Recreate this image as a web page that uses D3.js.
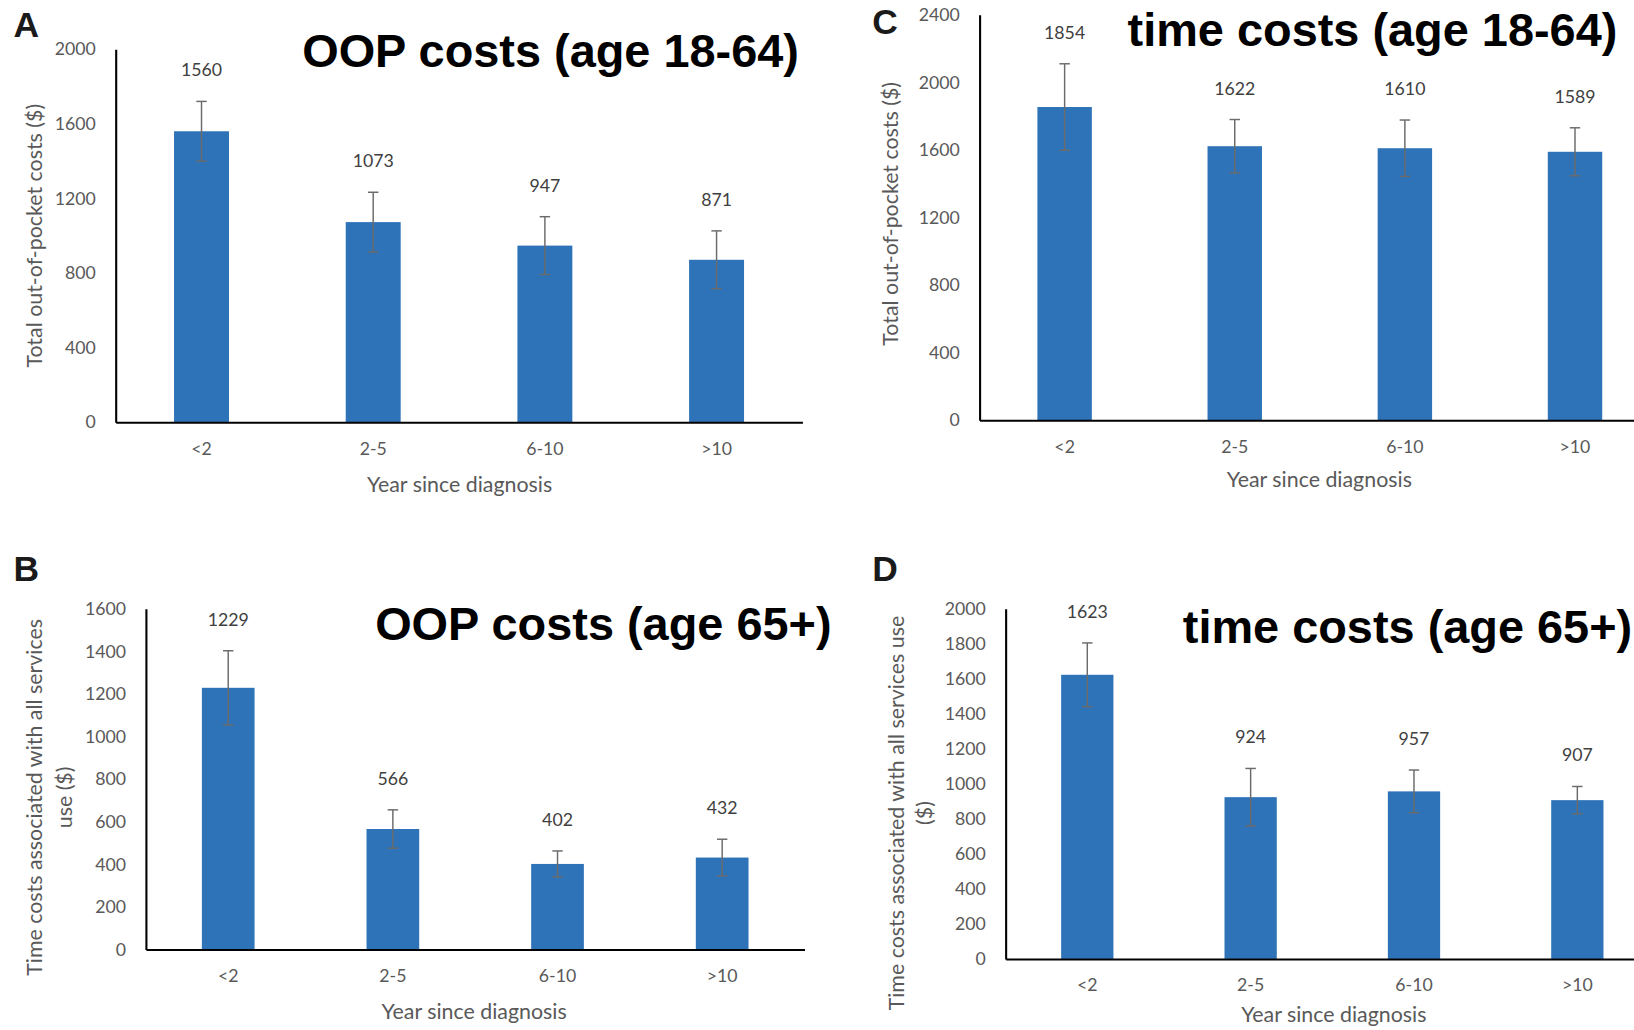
<!DOCTYPE html>
<html>
<head>
<meta charset="utf-8">
<script src="https://cdnjs.cloudflare.com/ajax/libs/d3/7.8.5/d3.min.js"></script>
<style>
  body { margin: 0; background: #fff; }
  svg { display: block; }
</style>
</head>
<body>
<div id="chart"></div>
<script>
// data
const categories = ["<2", "2-5", "6-10", ">10"];

const oopYoung = [1560, 1073, 947, 871];
const oopYoungErr = [160, 160, 155, 155];
const timeYoung = [1854, 1622, 1610, 1589];
const timeYoungErr = [256, 158, 167, 142];
const oopOld = [1229, 566, 402, 432];
const oopOldErr = [174, 90, 61, 86];
const timeOld = [1623, 924, 957, 907];
const timeOldErr = [182, 164, 122, 78];

const ticksA = [0, 400, 800, 1200, 1600, 2000];
const ticksC = [0, 400, 800, 1200, 1600, 2000, 2400];
const ticksB = [0, 200, 400, 600, 800, 1000, 1200, 1400, 1600];
const ticksD = [0, 200, 400, 600, 800, 1000, 1200, 1400, 1600, 1800, 2000];

const blue = "#2e73b8";
const labelFont = "Lato, 'Open Sans', sans-serif";

const svg = d3.select("#chart").append("svg")
  .attr("width", 1634)
  .attr("height", 1030)
  .attr("viewBox", "0 0 1568 988");

const panels = [
  { letter: "A", lx: 13, ly: 35, left: 111, right: 770, top: 47, bottom: 405,
    values: oopYoung, errs: oopYoungErr, ticks: ticksA,
    title: "OOP costs (age 18-64)", tx: 290, ty: 64,
    ytitle: ["Total out-of-pocket costs ($)"], ytx: [33], yty: 226, xtx: 441, xty: 472 },
  { letter: "C", lx: 837, ly: 32, left: 940, right: 1593, top: 14, bottom: 403,
    values: timeYoung, errs: timeYoungErr, ticks: ticksC,
    title: "time costs (age 18-64)", tx: 1082, ty: 44,
    ytitle: ["Total out-of-pocket costs ($)"], ytx: [855], yty: 205, xtx: 1266, xty: 467 },
  { letter: "B", lx: 13, ly: 557, left: 140, right: 772, top: 584, bottom: 911,
    values: oopOld, errs: oopOldErr, ticks: ticksB,
    title: "OOP costs (age 65+)", tx: 360, ty: 614,
    ytitle: ["Time costs associated with all services", "use ($)"], ytx: [33, 62], yty: 765, xtx: 455, xty: 978 },
  { letter: "D", lx: 837, ly: 557, left: 965, right: 1592, top: 584, bottom: 920,
    values: timeOld, errs: timeOldErr, ticks: ticksD,
    title: "time costs (age 65+)", tx: 1135, ty: 617,
    ytitle: ["Time costs associated with all services use", "($)"], ytx: [860, 887], yty: 780, xtx: 1280, xty: 981 }
];

panels.forEach(p => {
  const g = svg.append("g");

  const x = d3.scaleBand()
    .domain(categories)
    .range([p.left, p.right])
    .paddingInner(0.68)
    .paddingOuter(0.34);

  const y = d3.scaleLinear()
    .domain([0, d3.max(p.ticks)])
    .range([p.bottom, p.top]);

  // bars
  g.selectAll("rect.bar")
    .data(p.values)
    .enter().append("rect")
    .attr("class", "bar")
    .attr("x", (d, i) => x(categories[i]))
    .attr("y", d => y(d))
    .attr("width", x.bandwidth())
    .attr("height", d => y(0) - y(d))
    .attr("fill", blue);

  // error bars
  const eb = g.selectAll("g.err")
    .data(p.values)
    .enter().append("g")
    .attr("class", "err")
    .attr("stroke", "#6b6b6b")
    .attr("stroke-width", 1.4);
  const cx = i => x(categories[i]) + x.bandwidth() / 2;
  eb.append("line")
    .attr("x1", (d, i) => cx(i)).attr("x2", (d, i) => cx(i))
    .attr("y1", (d, i) => y(d + p.errs[i]))
    .attr("y2", (d, i) => y(d - p.errs[i]));
  eb.append("line")
    .attr("x1", (d, i) => cx(i) - 5).attr("x2", (d, i) => cx(i) + 5)
    .attr("y1", (d, i) => y(d + p.errs[i])).attr("y2", (d, i) => y(d + p.errs[i]));
  eb.append("line")
    .attr("x1", (d, i) => cx(i) - 5).attr("x2", (d, i) => cx(i) + 5)
    .attr("y1", (d, i) => y(d - p.errs[i])).attr("y2", (d, i) => y(d - p.errs[i]));

  // value labels
  g.selectAll("text.val")
    .data(p.values)
    .enter().append("text")
    .attr("class", "val")
    .attr("x", (d, i) => cx(i))
    .attr("y", (d, i) => y(d + p.errs[i]) - 24)
    .attr("text-anchor", "middle")
    .style("font-family", labelFont)
    .style("font-size", "17px")
    .style("fill", "#404040")
    .text(d => d);

  // axes
  const yAxis = g.append("g")
    .attr("transform", `translate(${p.left},0)`)
    .call(d3.axisLeft(y).tickValues(p.ticks).tickFormat(d3.format("d"))
      .tickSize(0).tickSizeOuter(0).tickPadding(19));
  const xAxis = g.append("g")
    .attr("transform", `translate(0,${p.bottom})`)
    .call(d3.axisBottom(x).tickSize(0).tickSizeOuter(0).tickPadding(19));

  [yAxis, xAxis].forEach(a => {
    a.select(".domain").attr("stroke", "#000").attr("stroke-width", 2);
    a.selectAll("text")
      .style("font-family", labelFont)
      .style("font-size", "17px")
      .style("fill", "#595959");
  });

  // axis titles
  g.append("text")
    .attr("x", p.xtx)
    .attr("y", p.xty)
    .attr("text-anchor", "middle")
    .style("font-family", labelFont)
    .style("font-size", "20.5px")
    .style("fill", "#595959")
    .text("Year since diagnosis");

  p.ytitle.forEach((t, k) => {
    g.append("text")
      .attr("transform", `translate(${p.ytx[k]},${p.yty}) rotate(-90)`)
      .attr("dy", "0.35em")
      .attr("text-anchor", "middle")
      .style("font-family", labelFont)
      .style("font-size", "20.5px")
      .style("fill", "#595959")
      .text(t);
  });

  // chart title
  g.append("text")
    .attr("x", p.tx)
    .attr("y", p.ty)
    .style("font-family", "'Liberation Sans', Arial, sans-serif")
    .style("font-weight", "bold")
    .style("font-size", "45px")
    .style("fill", "#000")
    .text(p.title);

  // panel letter
  g.append("text")
    .attr("x", p.lx)
    .attr("y", p.ly)
    .style("font-family", "'Liberation Sans', Arial, sans-serif")
    .style("font-weight", "bold")
    .style("font-size", "34px")
    .style("fill", "#1a1a1a")
    .text(p.letter);
});
</script>
</body>
</html>
